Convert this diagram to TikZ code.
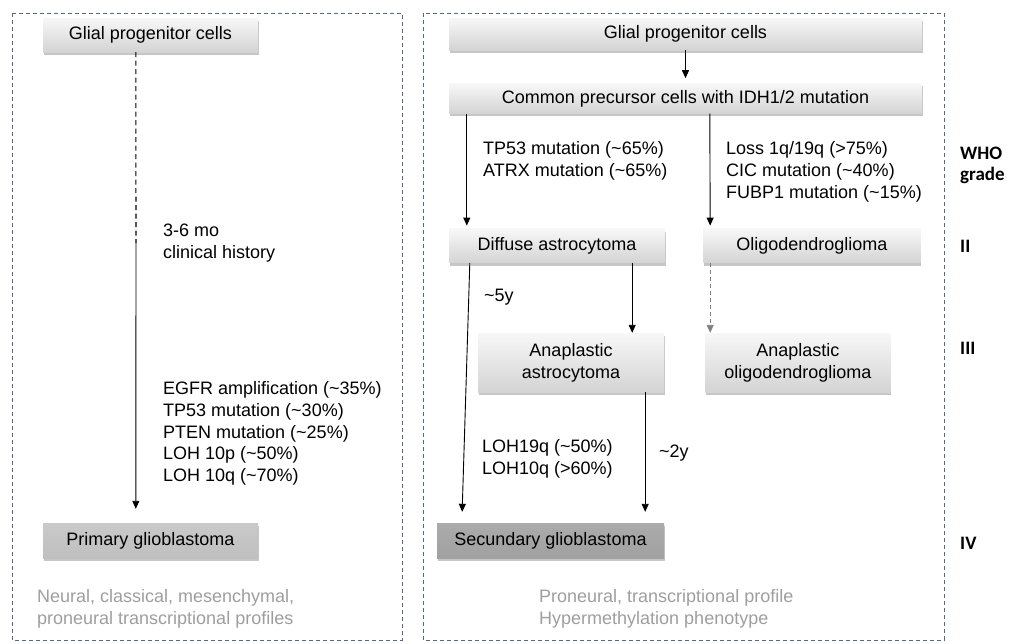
\documentclass[tikz,border=0pt]{standalone}
\usepackage{fontspec}
\setmainfont{Liberation Sans}
\newfontfamily\gradefont{Carlito}
\usetikzlibrary{positioning}
\usetikzlibrary{arrows.meta}
\usetikzlibrary{shadows}
\definecolor{panelblue}{RGB}{84,104,142}
\definecolor{notegray}{RGB}{158,158,158}

\begin{document}
\begin{tikzpicture}[
    x=1pt, y=-1pt,
    every node/.style={font=\fontsize{18}{21.7}\selectfont},
    panel/.style={draw=panelblue, line width=0.9pt, dash pattern=on 4pt off 3pt},
    cbox/.style={top color=black!3, bottom color=black!17, inner sep=0, minimum height=34pt,
        drop shadow={shadow xshift=0.5pt, shadow yshift=-3pt, opacity=0.45}},
    pbox/.style={cbox, top color=black!21, bottom color=black!25},
    sbox/.style={cbox, top color=black!33, bottom color=black!37},
    mtext/.style={align=left, inner sep=0, anchor=west},
    ptext/.style={mtext, text=notegray},
    gtext/.style={align=left, inner sep=0, anchor=west, font=\gradefont\bfseries\fontsize{19}{21}\selectfont},
    dedge/.style={-{Triangle[length=8pt,width=7pt]}, line width=0.9pt},
    fedge/.style={line width=1.1pt}
]
\useasboundingbox (0,0) rectangle (1014,643);

% panels
\draw[panel] (12,13) rectangle (402,640);
\draw[panel] (423,13) rectangle (944,640);

% Primary pathway
\node[cbox, minimum width=215pt] (glialL) at (150.5,35) {Glial progenitor cells};
\node[pbox, minimum width=215pt, minimum height=35pt] (primary) at (150.5,540.5) {Primary glioblastoma};
\coordinate (histL) at (136,243);
\draw[fedge, dash pattern=on 5pt off 3.5pt] ([xshift=93pt]glialL.south west) -- (histL);
\draw[dedge, shorten >=14pt] (histL) -- ([xshift=93pt]primary.north west);
\node[mtext, right=27pt of histL] (hist) {3-6 mo\\clinical history};
\node[mtext] (mutL) at (163,433.5) {EGFR amplification (\textasciitilde35\%)\\TP53 mutation (\textasciitilde30\%)\\PTEN mutation (\textasciitilde25\%)\\LOH 10p (\textasciitilde50\%)\\LOH 10q (\textasciitilde70\%)};
\node[ptext] (profL) at (37,608.5) {Neural, classical, mesenchymal,\\proneural transcriptional profiles};

% Secondary pathway
\node[cbox, minimum width=473pt, minimum height=32pt] (glialR) at (685.5,34) {Glial progenitor cells};
\node[cbox, minimum width=473pt, minimum height=30pt, below=33pt of glialR] (common) {Common precursor cells with IDH1/2 mutation};
\node[cbox, minimum width=216pt, below=115pt of common.south west, anchor=north west] (diffuse) {Diffuse astrocytoma};
\node[cbox, minimum width=217pt, right=38pt of diffuse] (oligo) {Oligodendroglioma};
\node[cbox, minimum width=186pt, minimum height=59pt, align=center] (anaA) at (571,362.5) {Anaplastic\\astrocytoma};
\node[cbox, minimum width=185pt, minimum height=59pt, align=center, right=41pt of anaA] (anaO) {Anaplastic\\oligodendroglioma};
\node[sbox, minimum width=227pt, minimum height=35pt] (secund) at (550.5,540.5) {Secundary glioblastoma};

\draw[dedge, shorten >=5pt] (glialR) -- (common);
\draw[dedge, shorten >=3pt] ([xshift=18pt]common.south west) -- ([xshift=18pt]diffuse.north west);
\draw[dedge, shorten >=3pt] ([xshift=261pt]common.south west) -- ([xshift=7pt]oligo.north west);
\draw[dedge, shorten >=11pt] ([xshift=21pt]diffuse.south west) -- ([xshift=25pt]secund.north west);
\draw[dedge] ([xshift=-33pt]diffuse.south east) -- ([xshift=-32pt]anaA.north east);
\draw[dedge, draw=black!50, dash pattern=on 4pt off 3pt] ([xshift=7pt]oligo.south west) -- ([xshift=5pt]anaO.north west);
\draw[dedge, shorten >=11pt] ([xshift=-19pt]anaA.south east) -- ([xshift=-19pt]secund.north east);

\node[mtext] (mutA) at (483,161) {TP53 mutation (\textasciitilde65\%)\\ATRX mutation (\textasciitilde65\%)};
\node[mtext] (mutO) at (726,172) {Loss 1q/19q (>75\%)\\CIC mutation (\textasciitilde40\%)\\FUBP1 mutation (\textasciitilde15\%)};
\node[mtext] (t5y) at (484,297) {\textasciitilde5y};
\node[mtext] (mutS) at (482,459) {LOH19q (\textasciitilde50\%)\\LOH10q (>60\%)};
\node[mtext] (t2y) at (659,453) {\textasciitilde2y};
\node[ptext] (profR) at (539,608.5) {Proneural, transcriptional profile\\Hypermethylation phenotype};

% WHO grade
\node[gtext] (who) at (960,165.5) {WHO\\grade};
\node[gtext] (g2) at (960,246) {II};
\node[gtext] (g3) at (960,348) {III};
\node[gtext] (g4) at (960,543) {IV};

\end{tikzpicture}
\end{document}
